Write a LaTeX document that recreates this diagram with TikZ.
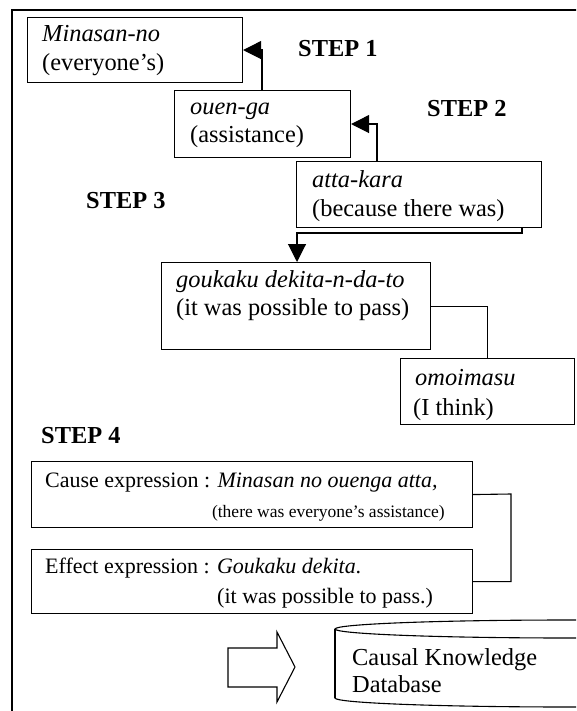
\documentclass[tikz,border=0pt]{standalone}
\usepackage{fontspec}
\setmainfont{Liberation Serif}
\usetikzlibrary{arrows.meta}
\begin{document}
\begin{tikzpicture}[x=1pt,y=-1pt,
  box/.style={draw, line width=1.1pt, rectangle, inner sep=0pt, anchor=north west},
  txt/.style={inner sep=0pt, anchor=base west, font=\fontsize{24.4}{28}\selectfont},
  stxt/.style={inner sep=0pt, anchor=base west, font=\fontsize{22}{26}\selectfont},
  smtxt/.style={inner sep=0pt, anchor=base east, font=\fontsize{17.5}{20}\selectfont},
  steplabel/.style={inner sep=0pt, anchor=base west, font=\fontsize{24.4}{28}\selectfont\bfseries},
  conn/.style={line width=1.1pt},
  arr/.style={line width=1.1pt, -{Triangle[length=18pt,width=18pt]}}]
\clip (0,0) rectangle (576,711);
\useasboundingbox (0,0) rectangle (576,711);
% outer frame
\draw[line width=2pt] (12,730) -- (12,10) -- (600,10);
% boxes
\node[box, minimum width=215pt, minimum height=65pt] (b1) at (27,17) {};
\node[box, minimum width=176pt, minimum height=67pt] (b2) at (174,90) {};
\node[box, minimum width=245pt, minimum height=66pt] (b3) at (296,161) {};
\node[box, minimum width=269pt, minimum height=87pt] (b4) at (161,262) {};
\node[box, minimum width=174pt, minimum height=66pt] (b5) at (400,358) {};
\node[box, minimum width=441pt, minimum height=66pt] (b6) at (31,461) {};
\node[box, minimum width=441pt, minimum height=64pt] (b7) at (31,549) {};
% texts
\node[txt] (t1a) at (42,42) {\textit{Minasan-no}};
\node[txt] (t1b) at (42,71) {(everyone’s)};
\node[txt] (t2a) at (190,115) {\textit{ouen-ga}};
\node[txt] (t2b) at (190,143) {(assistance)};
\node[txt] (t3a) at (312,188) {\textit{atta-kara}};
\node[txt] (t3b) at (312,217) {(because there was)};
\node[txt] (t4a) at (176,287) {\textit{goukaku dekita-n-da-to}};
\node[txt] (t4b) at (176,315) {(it was possible to pass)};
\node[txt] (t5a) at (415,385) {\textit{omoimasu}};
\node[txt] (t5b) at (413,415) {(I think)};
\node[steplabel] (s1) at (298,57) {STEP 1};
\node[steplabel] (s2) at (427,117) {STEP 2};
\node[steplabel] (s3) at (86,209) {STEP 3};
\node[steplabel] (s4) at (41,443) {STEP 4};
\node[stxt] (t6a) at (45,487) {Cause expression : \textit{Minasan no ouenga atta,}};
\node[smtxt] (t6b) at (445,517) {(there was everyone’s assistance)};
\node[stxt] (t7a) at (45,573) {Effect expression : \textit{Goukaku dekita}.};
\node[stxt] (t7b) at (217,603) {(it was possible to pass.)};
% connectors
\coordinate (k1) at (262,90);
\draw[arr] (k1) |- (b1.east);
\coordinate (k2) at (377,161);
\draw[arr] (k2) |- (b2.east);
\coordinate (k3) at (522,227);
\coordinate (k4) at (297,262);
\draw[arr] (k3) -- (522,233) -| (k4);
\draw[conn] (b4.east) -| (b5.north);
\coordinate (k5) at (511,494);
\draw[conn] (b6.east) -- (k5) |- (b7.east);
% hollow arrow
\draw[line width=1.1pt, line join=miter] (228,648) -- (277,648) -- (277,632) -- (295,667) -- (277,702) -- (277,687) -- (228,687) -- cycle;
% database cylinder
\draw[line width=1.1pt] (570,629) ellipse [x radius=235pt, y radius=9pt];
\draw[line width=1.1pt] (335,629) -- (335,698);
\begin{scope}
\clip (300,698) rectangle (600,720);
\draw[line width=1.1pt] (570,698) ellipse [x radius=235pt, y radius=9pt];
\end{scope}
\node[txt] (db1) at (352,665) {Causal Knowledge};
\node[txt] (db2) at (352,692) {Database};
\end{tikzpicture}
\end{document}
